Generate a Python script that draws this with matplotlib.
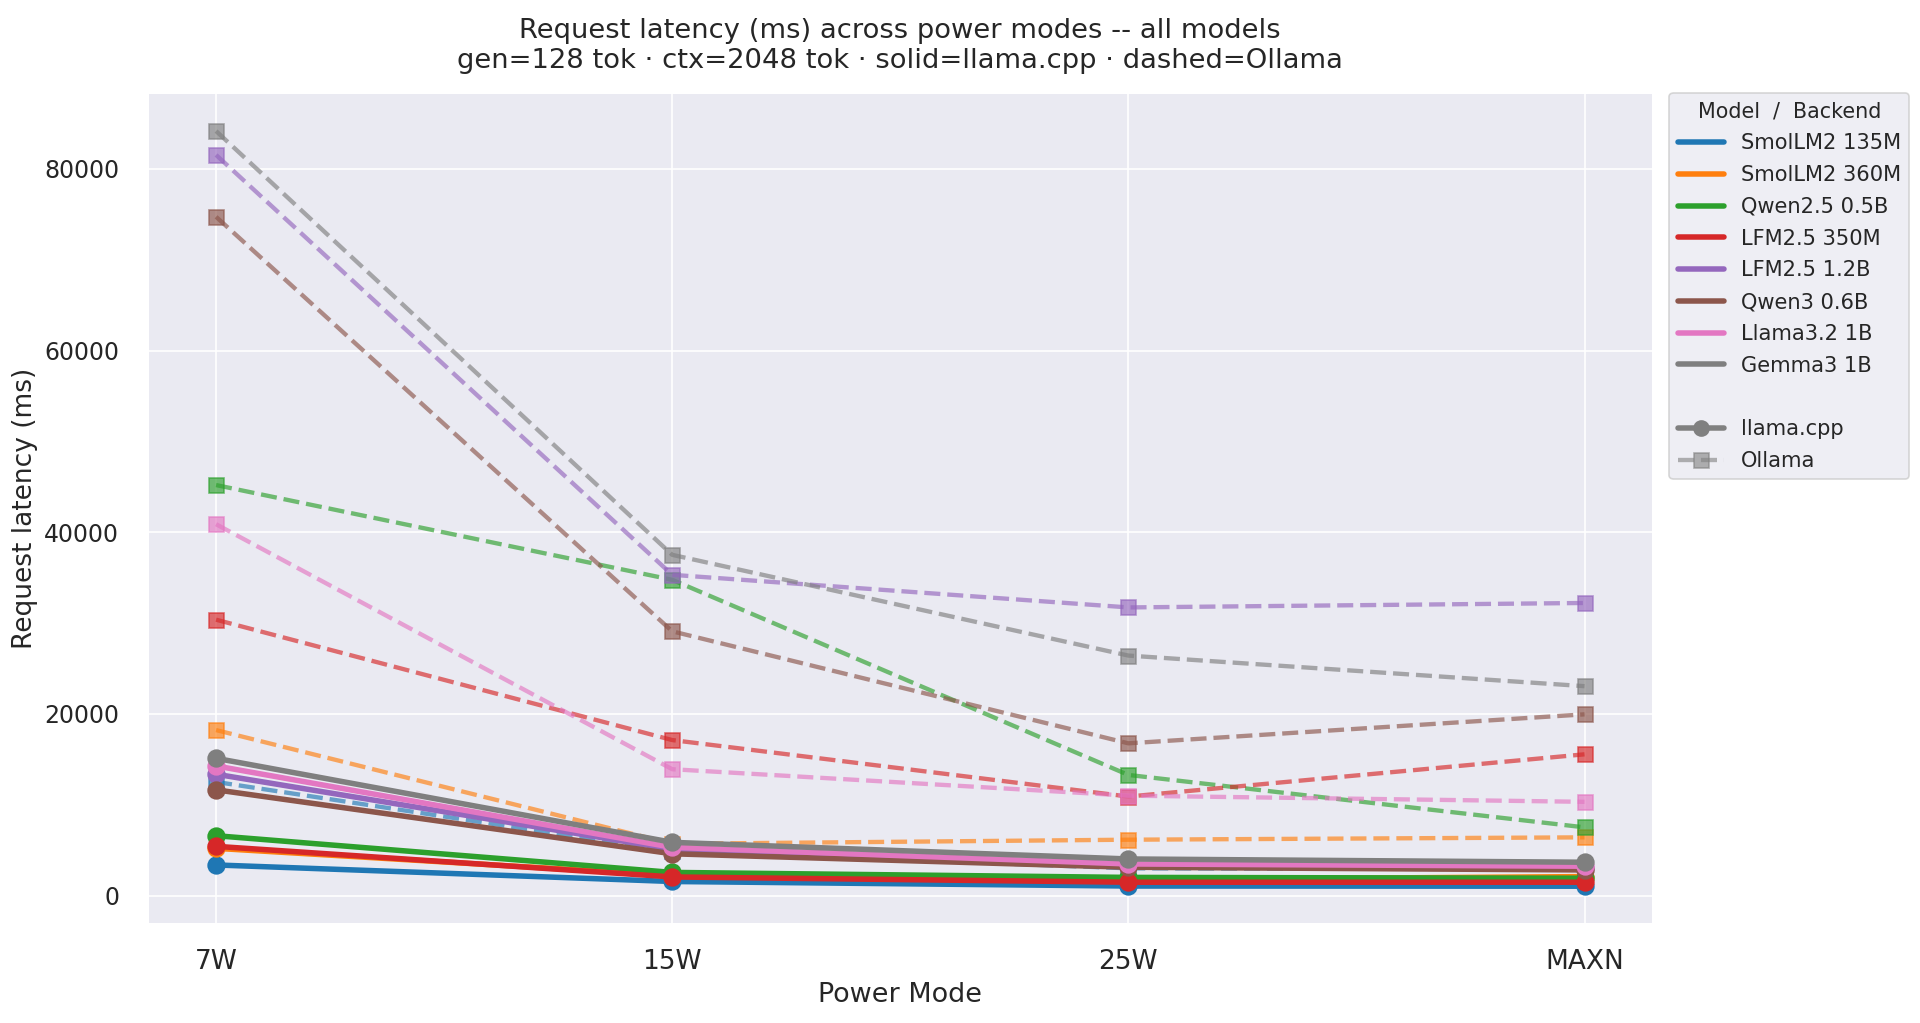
import numpy as np
import matplotlib
matplotlib.use("Agg")
import matplotlib.pyplot as plt
from matplotlib.lines import Line2D
import seaborn as sns

sns.set_theme(style="darkgrid")
plt.rcParams['font.family'] = ['DejaVu Sans']

modes = ["7W", "15W", "25W", "MAXN"]
models = ["SmolLM2 135M", "SmolLM2 360M", "Qwen2.5 0.5B", "LFM2.5 350M",
          "LFM2.5 1.2B", "Qwen3 0.6B", "Llama3.2 1B", "Gemma3 1B"]
colors = ["#1f77b4", "#ff7f0e", "#2ca02c", "#d62728",
          "#9467bd", "#8c564b", "#e377c2", "#7f7f7f"]

# request latency in ms, one row per model, columns = power modes
llama_cpp_ms = [
    [3370, 1550, 1050, 1030],
    [5200, 2200, 1750, 2090],
    [6590, 2550, 2000, 1910],
    [5420, 2050, 1470, 1470],
    [13360, 5100, 3300, 3050],
    [11640, 4600, 3120, 2820],
    [14270, 5310, 3480, 3230],
    [15110, 5860, 4030, 3670],
]
ollama_ms = [
    [12510, 4900, 3000, 2900],
    [18220, 5700, 6150, 6410],
    [45190, 34760, 13280, 7510],
    [30370, 17120, 10900, 15550],
    [81530, 35310, 31720, 32210],
    [74720, 29090, 16760, 19950],
    [40880, 13910, 11000, 10320],
    [84160, 37510, 26420, 23050],
]

fig = plt.figure(figsize=(16, 8.525), dpi=120)
ax = fig.add_axes([0.0769, 0.0968, 0.784, 0.812])

x = np.arange(len(modes))
for name, c, lc, ol in zip(models, colors, llama_cpp_ms, ollama_ms):
    ax.plot(x, lc, color=c, lw=3.3, marker="o", ms=10, label=name)
    ax.plot(x, ol, color=c, lw=2.6, ls="--", marker="s", ms=9, alpha=0.65)

ax.set_xticks(x)
ax.set_xticklabels(modes)
ax.tick_params(axis="x", labelsize=15.8, pad=9)
ax.tick_params(axis="y", labelsize=14.2, pad=11)
ax.set_xlabel("Power Mode", fontsize=16.2)
ax.set_ylabel("Request latency (ms)", fontsize=15.8)
ax.set_title("Request latency (ms) across power modes -- all models\n"
             "gen=128 tok \u00b7 ctx=2048 tok \u00b7 solid=llama.cpp \u00b7 dashed=Ollama",
             fontsize=16.4, pad=15)

handles = [Line2D([0], [0], color=c, lw=3.3) for c in colors]
labels = list(models)
handles.append(Line2D([0], [0], color="none"))
labels.append("")
handles.append(Line2D([0], [0], color="gray", lw=3.3, marker="o", ms=9))
labels.append("llama.cpp")
handles.append(Line2D([0], [0], color="gray", lw=2.6, ls="--", marker="s", ms=9, alpha=0.6))
labels.append("Ollama")
ax.legend(handles, labels, title="Model  /  Backend", loc="upper left",
          bbox_to_anchor=(1.011, 1.0), borderaxespad=0, fontsize=12.6,
          title_fontsize=12.4, handlelength=2.2, labelspacing=0.56)

fig.savefig("out.png", dpi=120)
